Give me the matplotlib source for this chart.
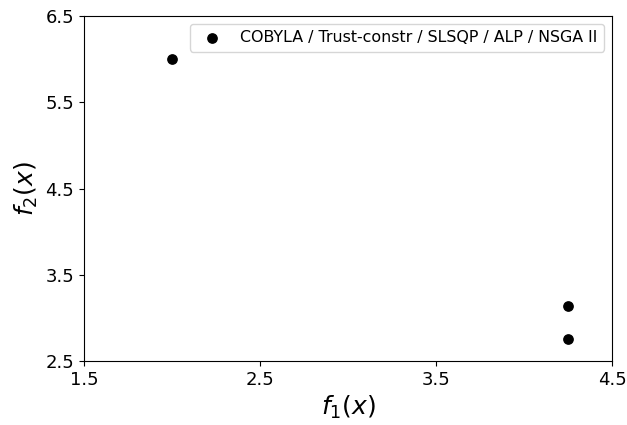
import matplotlib
matplotlib.use("Agg")
import matplotlib.pyplot as plt

# Pareto points
f1 = [2.0, 4.25, 4.25]
f2 = [6.0, 3.14, 2.76]
label = "COBYLA / Trust-constr / SLSQP / ALP / NSGA II"

xticks = [1.5, 2.5, 3.5, 4.5]
yticks = [2.5, 3.5, 4.5, 5.5, 6.5]

fig = plt.figure(figsize=(6.27, 4.25), dpi=100)
ax = fig.add_axes([84/627, 1 - 361/425, (612-84)/627, (361-16)/425])

ax.scatter(f1, f2, color="black", s=45, label=label)
ax.set_xlim(1.5, 4.5)
ax.set_ylim(2.5, 6.5)
ax.set_xticks(xticks)
ax.set_yticks(yticks)
ax.tick_params(labelsize=13)
ax.set_xlabel(r"$f_1(x)$", fontsize=18)
ax.set_ylabel(r"$f_2(x)$", fontsize=18)
ax.legend(loc="upper right", fontsize=11.4)

fig.savefig("out.png", dpi=100)
